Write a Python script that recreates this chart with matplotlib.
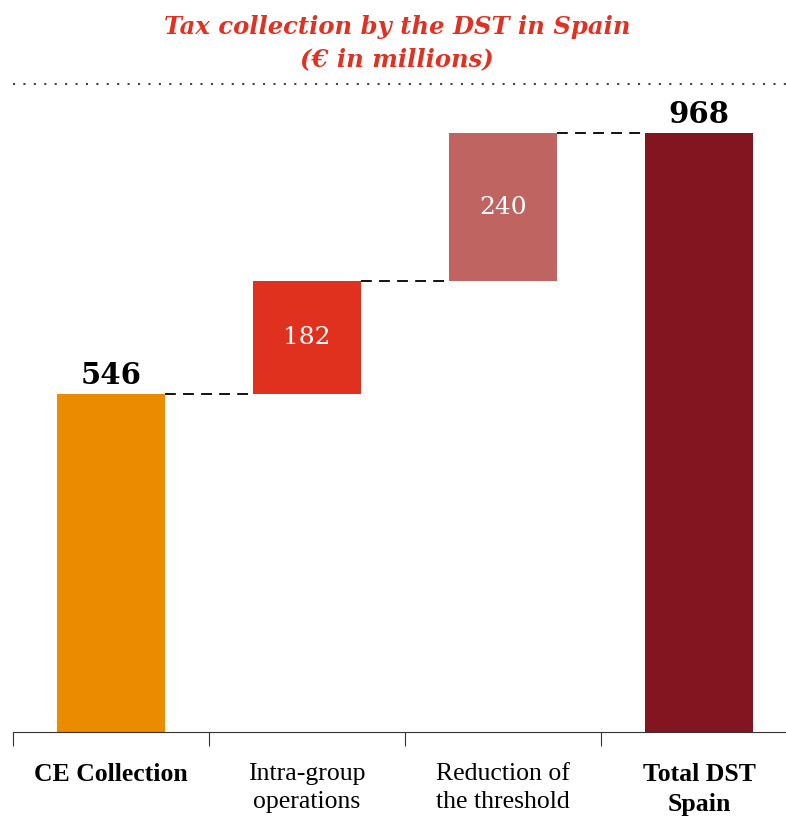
import matplotlib.pyplot as plt

categories = ['CE Collection', 'Intra-group\noperations', 'Reduction of\nthe threshold', 'Total DST\nSpain']
values = [546, 182, 240, 968]
is_total = [True, False, False, True]
colors = ['#EB8C00', '#E0301E', '#C06461', '#82151F']

plt.rcParams['font.family'] = ['Liberation Serif', 'DejaVu Serif']

fig = plt.figure(figsize=(7.86, 8.19), dpi=100)
W, H = 786, 819
# axes spans category slots of 196px, last one runs past the right edge
ax = fig.add_axes([13 / W, (H - 732) / H, 784 / W, (732 - 90) / H])

px_per_unit = (732 - 394) / 546.0
ax.set_ylim(0, (732 - 90) / px_per_unit)
ax.set_xlim(-0.5, 3.5)

bw = 0.55
running = 0
tops = []
for i, (v, tot) in enumerate(zip(values, is_total)):
    if tot:
        bottom = 0
        running = v
    else:
        bottom = running
        running = running + v
    ax.bar(i, v, bottom=bottom, width=bw, color=colors[i], zorder=2)
    tops.append(bottom + v)
    if tot:
        ax.text(i, bottom + v + 6, str(v), ha='center', va='bottom',
                fontsize=21, fontweight='bold', color='black', family=['DejaVu Serif'])
    else:
        ax.text(i, bottom + v / 2, str(v), ha='center', va='center',
                fontsize=18, color='white', family=['DejaVu Serif'])

# connectors
for i in range(len(values) - 1):
    ax.plot([i + bw / 2, i + 1 - bw / 2], [tops[i], tops[i]], color='black',
            lw=1.3, ls=(0, (6, 4)), zorder=1)

for s in ['top', 'right', 'left']:
    ax.spines[s].set_visible(False)
ax.spines['bottom'].set_color('#333333')
ax.set_yticks([])
ax.set_xticks([-0.5, 0.5, 1.5, 2.5], minor=False)
ax.set_xticklabels([])
ax.tick_params(axis='x', length=10, color='#333333', direction='out')

for i, c in enumerate(categories):
    ax.annotate(c, (i, 0), xytext=(0, -22), textcoords='offset points',
                ha='center', va='top', fontsize=18.5,
                fontweight='bold' if is_total[i] else 'normal', linespacing=1.4)

fig.text(397 / W, 1 - 27 / H, 'Tax collection by the DST in Spain', ha='center', va='center',
         fontsize=17.5, fontweight='bold', style='italic', color='#E03222', family=['DejaVu Serif'])
fig.text(397 / W, 1 - 59 / H, '(\u20ac in millions)', ha='center', va='center',
         fontsize=17.5, fontweight='bold', style='italic', color='#E03222', family=['DejaVu Serif'])
fig.add_artist(plt.Line2D([13 / W, 786 / W], [1 - 84 / H, 1 - 84 / H], color='#444444',
                          lw=1.5, ls=(0, (1, 4))))

fig.savefig('out.png', dpi=100)
